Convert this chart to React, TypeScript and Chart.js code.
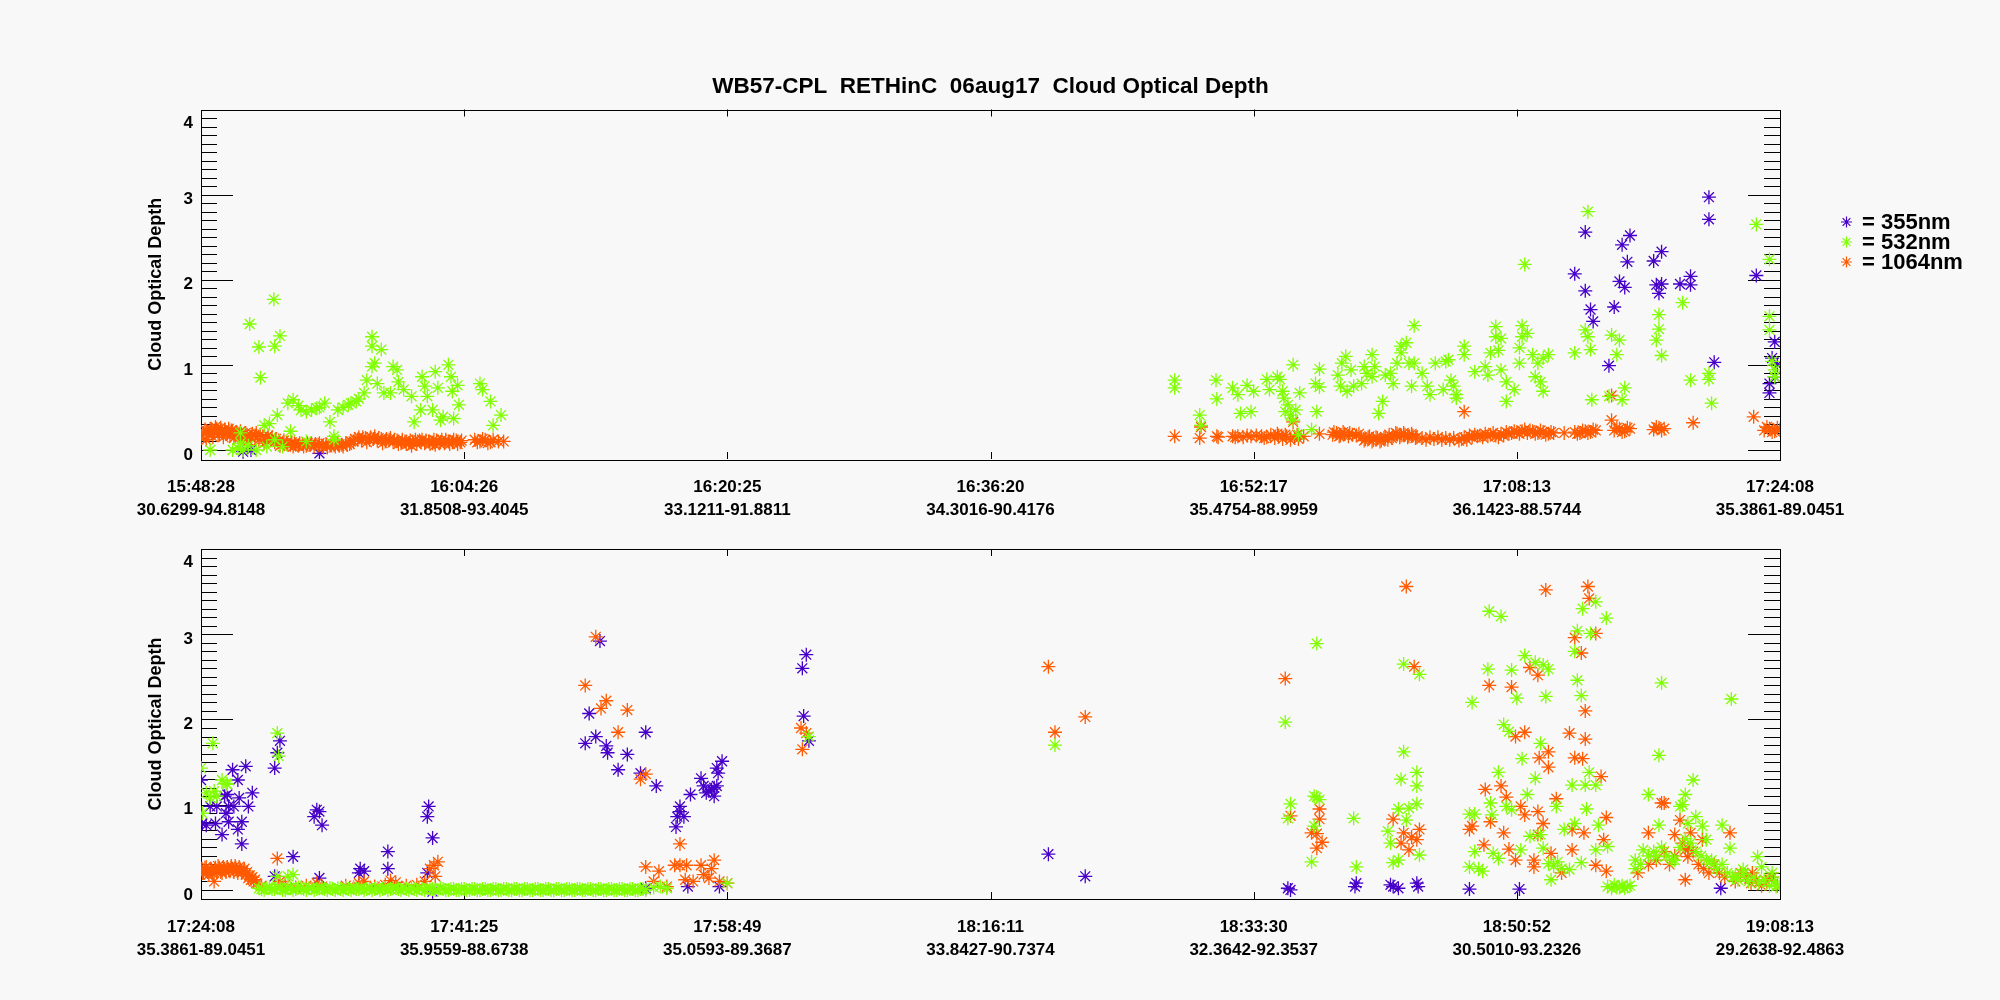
import React, { useEffect, useRef } from 'react';
import { Chart, registerables } from 'chart.js';
Chart.register(...registerables);

type P = [number, number];

// ---------- tick labels ----------
const topTimes = ['15:48:28', '16:04:26', '16:20:25', '16:36:20', '16:52:17', '17:08:13', '17:24:08'];
const topCoords = ['30.6299-94.8148', '31.8508-93.4045', '33.1211-91.8811', '34.3016-90.4176', '35.4754-88.9959', '36.1423-88.5744', '35.3861-89.0451'];
const bottomTimes = ['17:24:08', '17:41:25', '17:58:49', '18:16:11', '18:33:30', '18:50:52', '19:08:13'];
const bottomCoords = ['35.3861-89.0451', '35.9559-88.6738', '35.0593-89.3687', '33.8427-90.7374', '32.3642-92.3537', '30.5010-93.2326', '29.2638-92.4863'];

const seriesNames = ['= 355nm', '= 532nm', '= 1064nm'];
const titleText = 'WB57-CPL  RETHinC  06aug17  Cloud Optical Depth';
const yTitle = 'Cloud Optical Depth';

// ---------- top panel data (x = tick interval index, y = optical depth) ----------
const top355: P[] = [
  [0.16, -0.02], [0.45, -0.04], [0.19, 0.0],
  [5.22, 2.07], [5.26, 1.87], [5.26, 2.56], [5.28, 1.65], [5.29, 1.51], [5.35, 0.99], [5.37, 1.68],
  [5.39, 1.98], [5.41, 1.91], [5.40, 2.41], [5.43, 2.52], [5.42, 2.21], [5.52, 2.22], [5.55, 2.33],
  [5.53, 1.94], [5.55, 1.95], [5.54, 1.84], [5.62, 1.95], [5.66, 2.04], [5.66, 1.94], [5.73, 2.97],
  [5.73, 2.71], [5.75, 1.03], [5.91, 2.05], [5.98, 1.27], [5.97, 1.08], [5.96, 0.78], [5.96, 0.67],
  [5.98, 0.86], [5.99, 1.0],
];

const top532: P[] = [
  [0.035, 0.0], [0.12, 0.0], [0.14, 0.02], [0.16, 0.0], [0.18, 0.05], [0.21, 0.0], [0.15, 0.08], [0.15, 0.2],
  [0.24, 0.29], [0.26, 0.31], [0.25, 0.04], [0.28, 0.12], [0.31, 0.04], [0.34, 0.22], [0.40, 0.1], [0.505, 0.12],
  [0.185, 1.48], [0.22, 1.21], [0.226, 0.85], [0.277, 1.77], [0.28, 1.22], [0.30, 1.34],
  [0.29, 0.41], [0.33, 0.55], [0.35, 0.59], [0.37, 0.52], [0.38, 0.47], [0.40, 0.45], [0.42, 0.47], [0.44, 0.49],
  [0.45, 0.50], [0.47, 0.55], [0.49, 0.33], [0.505, 0.16], [0.52, 0.47], [0.54, 0.50], [0.56, 0.53], [0.57, 0.55],
  [0.59, 0.57], [0.60, 0.60], [0.62, 0.67], [0.63, 0.82], [0.65, 0.98], [0.65, 1.22], [0.65, 1.33], [0.685, 1.18],
  [0.66, 1.02], [0.67, 0.78], [0.695, 0.67], [0.72, 0.67], [0.73, 0.98], [0.745, 0.94], [0.75, 0.80], [0.77, 0.71],
  [0.80, 0.63], [0.81, 0.33], [0.835, 0.47], [0.84, 0.86], [0.85, 0.75], [0.86, 0.63], [0.89, 0.92], [0.90, 0.73],
  [0.88, 0.47], [0.91, 0.35], [0.92, 0.39], [0.94, 1.0], [0.95, 0.86], [0.955, 0.69], [0.975, 0.76], [0.98, 0.53],
  [0.96, 0.37], [1.06, 0.78], [1.07, 0.71], [1.10, 0.57], [1.11, 0.29], [1.14, 0.41],
  [3.70, 0.82], [3.70, 0.73], [3.795, 0.41], [3.80, 0.29], [3.857, 0.82], [3.86, 0.60], [3.92, 0.73], [3.94, 0.65],
  [3.975, 0.76], [3.95, 0.43], [3.99, 0.45], [4.0, 0.69], [4.05, 0.83], [4.06, 0.71], [4.09, 0.86], [4.10, 0.83],
  [4.11, 0.69], [4.115, 0.61], [4.12, 0.45], [4.13, 0.53], [4.14, 0.41], [4.16, 0.47], [4.15, 0.35], [4.15, 1.0],
  [4.175, 0.67], [4.17, 0.18], [4.22, 0.24], [4.235, 0.78], [4.25, 0.74], [4.25, 0.95], [4.24, 0.45], [4.32, 0.88],
  [4.33, 0.75], [4.335, 1.02], [4.35, 1.10], [4.355, 0.69], [4.37, 0.94], [4.38, 0.75], [4.41, 0.78], [4.42, 0.98],
  [4.43, 0.90], [4.45, 1.12], [4.45, 0.86], [4.46, 0.98], [4.49, 0.57], [4.475, 0.43], [4.50, 0.88], [4.52, 0.90],
  [4.53, 0.78], [4.545, 1.02], [4.56, 1.22], [4.56, 1.14], [4.58, 1.26], [4.59, 1.02], [4.60, 0.75], [4.61, 1.46],
  [4.61, 1.02], [4.64, 0.90], [4.66, 0.75], [4.67, 0.65], [4.69, 1.02], [4.72, 0.71], [4.73, 1.04], [4.75, 0.82],
  [4.76, 0.75], [4.77, 0.65], [4.74, 1.06], [4.77, 0.61], [4.80, 1.22], [4.80, 1.12], [4.84, 0.92], [4.88, 0.98],
  [4.89, 0.88], [4.90, 1.14], [4.92, 1.45], [4.92, 1.33], [4.93, 1.17], [4.94, 1.31], [4.94, 0.94], [4.96, 0.80],
  [4.96, 0.57], [4.99, 0.71], [5.01, 1.02], [5.01, 1.20], [5.02, 1.46], [5.02, 1.33], [5.04, 1.37], [5.06, 1.12],
  [5.07, 0.86], [5.08, 1.02], [5.09, 0.80], [5.10, 0.69], [5.10, 1.08], [5.12, 1.12], [5.03, 2.18], [5.27, 2.80],
  [5.22, 1.14], [5.26, 1.41], [5.27, 1.33], [5.28, 1.18], [5.285, 0.59], [5.36, 1.35], [5.39, 1.29], [5.38, 1.12],
  [5.41, 0.73], [5.40, 0.59], [5.35, 0.63], [5.54, 1.59], [5.54, 1.42], [5.53, 1.29], [5.55, 1.11], [5.63, 1.73],
  [5.66, 0.82], [5.73, 0.90], [5.73, 0.83], [5.74, 0.55], [5.91, 2.65], [5.96, 2.24], [5.96, 1.57], [5.96, 1.41],
  [5.97, 1.04], [5.98, 0.94], [5.98, 0.86],
];

const top1064: P[] = [
  [0.00, 0.14], [0.01, 0.20], [0.015, 0.24], [0.02, 0.12], [0.02, 0.22], [0.03, 0.18], [0.035, 0.25], [0.04, 0.24],
  [0.045, 0.15], [0.05, 0.21], [0.055, 0.27], [0.06, 0.25], [0.065, 0.18], [0.07, 0.19], [0.075, 0.26], [0.08, 0.23],
  [0.085, 0.15], [0.09, 0.24], [0.095, 0.19], [0.10, 0.20], [0.105, 0.25], [0.11, 0.17], [0.115, 0.23], [0.12, 0.22],
  [0.125, 0.14], [0.13, 0.16], [0.135, 0.21], [0.145, 0.19], [0.15, 0.22], [0.155, 0.16], [0.16, 0.15], [0.17, 0.20],
  [0.175, 0.18], [0.18, 0.11], [0.19, 0.14], [0.195, 0.19], [0.205, 0.17], [0.21, 0.20], [0.22, 0.12], [0.225, 0.18],
  [0.235, 0.16], [0.24, 0.08], [0.25, 0.10], [0.255, 0.17], [0.265, 0.13], [0.27, 0.15], [0.28, 0.09], [0.285, 0.13],
  [0.295, 0.11], [0.30, 0.05], [0.31, 0.07], [0.315, 0.11], [0.325, 0.09], [0.33, 0.06], [0.34, 0.06], [0.345, 0.09],
  [0.35, 0.04], [0.355, 0.08], [0.36, 0.06], [0.37, 0.05], [0.375, 0.08], [0.385, 0.07], [0.39, 0.04], [0.40, 0.05],
  [0.405, 0.08], [0.415, 0.06], [0.42, 0.08], [0.43, 0.04], [0.435, 0.07], [0.445, 0.06], [0.45, 0.08], [0.46, 0.05],
  [0.465, 0.03], [0.475, 0.07], [0.48, 0.03], [0.49, 0.05], [0.495, 0.08], [0.505, 0.06], [0.51, 0.04], [0.52, 0.07],
  [0.525, 0.05], [0.535, 0.06], [0.54, 0.04], [0.55, 0.08], [0.555, 0.06], [0.565, 0.07], [0.57, 0.10], [0.58, 0.10],
  [0.585, 0.13], [0.595, 0.12], [0.60, 0.15], [0.61, 0.11], [0.615, 0.15], [0.625, 0.14], [0.63, 0.09], [0.64, 0.12],
  [0.645, 0.15], [0.655, 0.13], [0.66, 0.16], [0.67, 0.11], [0.675, 0.14], [0.685, 0.13], [0.69, 0.08], [0.70, 0.10],
  [0.705, 0.13], [0.715, 0.12], [0.72, 0.14], [0.73, 0.09], [0.735, 0.12], [0.745, 0.11], [0.75, 0.07], [0.76, 0.08],
  [0.765, 0.12], [0.775, 0.10], [0.78, 0.07], [0.79, 0.08], [0.795, 0.11], [0.80, 0.05], [0.805, 0.10], [0.815, 0.12],
  [0.82, 0.07], [0.83, 0.11], [0.835, 0.09], [0.84, 0.12], [0.85, 0.08], [0.855, 0.11], [0.865, 0.10], [0.87, 0.07],
  [0.88, 0.08], [0.885, 0.12], [0.89, 0.06], [0.895, 0.11], [0.905, 0.08], [0.91, 0.09], [0.915, 0.12], [0.925, 0.08],
  [0.93, 0.12], [0.94, 0.10], [0.945, 0.07], [0.955, 0.09], [0.96, 0.12], [0.97, 0.11], [0.975, 0.07], [0.985, 0.09],
  [0.99, 0.11], [1.04, 0.12], [1.05, 0.09], [1.06, 0.10], [1.07, 0.13], [1.08, 0.12], [1.09, 0.08], [1.10, 0.09],
  [1.11, 0.12], [1.13, 0.10], [1.15, 0.10],
  [3.70, 0.16], [3.795, 0.14], [3.80, 0.27], [3.86, 0.16], [3.865, 0.15], [3.92, 0.16], [3.93, 0.15], [3.94, 0.16],
  [3.96, 0.15], [3.975, 0.17], [3.99, 0.16], [4.01, 0.17], [4.03, 0.16], [4.04, 0.14], [4.05, 0.15], [4.065, 0.18],
  [4.08, 0.14], [4.09, 0.19], [4.095, 0.17], [4.11, 0.13], [4.12, 0.18], [4.125, 0.16], [4.14, 0.12], [4.155, 0.15],
  [4.15, 0.33], [4.165, 0.18], [4.17, 0.13], [4.19, 0.16], [4.25, 0.19], [4.30, 0.18], [4.305, 0.21], [4.315, 0.20],
  [4.325, 0.16], [4.33, 0.17], [4.34, 0.21], [4.345, 0.19], [4.36, 0.16], [4.365, 0.20], [4.375, 0.18], [4.39, 0.17],
  [4.40, 0.19], [4.41, 0.15], [4.42, 0.11], [4.425, 0.13], [4.435, 0.15], [4.44, 0.16], [4.45, 0.10], [4.455, 0.12],
  [4.465, 0.15], [4.47, 0.14], [4.48, 0.10], [4.485, 0.11], [4.495, 0.14], [4.50, 0.15], [4.51, 0.12], [4.515, 0.18],
  [4.525, 0.14], [4.53, 0.16], [4.54, 0.20], [4.545, 0.19], [4.555, 0.15], [4.56, 0.17], [4.57, 0.20], [4.575, 0.18],
  [4.585, 0.15], [4.59, 0.16], [4.60, 0.19], [4.605, 0.17], [4.615, 0.14], [4.62, 0.15], [4.64, 0.14], [4.655, 0.12],
  [4.67, 0.15], [4.685, 0.13], [4.70, 0.15], [4.715, 0.12], [4.73, 0.14], [4.745, 0.12], [4.76, 0.14], [4.78, 0.11],
  [4.80, 0.45], [4.79, 0.13], [4.80, 0.15], [4.81, 0.12], [4.82, 0.17], [4.83, 0.15], [4.84, 0.18], [4.85, 0.16],
  [4.86, 0.17], [4.87, 0.15], [4.88, 0.19], [4.89, 0.16], [4.90, 0.18], [4.91, 0.20], [4.92, 0.17], [4.93, 0.15],
  [4.94, 0.19], [4.95, 0.17], [4.96, 0.21], [4.97, 0.19], [4.98, 0.20], [4.99, 0.22], [5.00, 0.21], [5.01, 0.19],
  [5.02, 0.22], [5.03, 0.24], [5.04, 0.20], [5.05, 0.23], [5.06, 0.22], [5.07, 0.19], [5.08, 0.20], [5.09, 0.23],
  [5.10, 0.21], [5.11, 0.18], [5.12, 0.19], [5.13, 0.21], [5.14, 0.20], [5.18, 0.20], [5.22, 0.21], [5.23, 0.19],
  [5.24, 0.20], [5.25, 0.23], [5.26, 0.22], [5.27, 0.20], [5.28, 0.21], [5.29, 0.24], [5.30, 0.23],
  [5.36, 0.64], [5.36, 0.35], [5.37, 0.23], [5.38, 0.26], [5.39, 0.25], [5.40, 0.21], [5.41, 0.22], [5.42, 0.26],
  [5.43, 0.25], [5.52, 0.24], [5.53, 0.27], [5.54, 0.26], [5.55, 0.23], [5.56, 0.25], [5.67, 0.32], [5.90, 0.39],
  [5.94, 0.23], [5.95, 0.27], [5.96, 0.25], [5.97, 0.21], [5.98, 0.22], [5.99, 0.26], [6.0, 0.24],
];

// ---------- bottom panel data ----------
const bottom355: P[] = [
  [0.0, 1.29], [0.005, 0.78], [0.02, 0.76], [0.035, 0.98], [0.055, 0.78], [0.06, 0.98], [0.08, 0.65], [0.09, 1.10],
  [0.10, 1.12], [0.095, 0.90], [0.105, 0.98], [0.105, 0.80], [0.12, 1.41], [0.125, 0.98], [0.14, 1.29], [0.145, 1.08],
  [0.14, 0.71], [0.155, 0.54], [0.155, 0.80], [0.17, 1.45], [0.18, 0.98], [0.195, 1.14],
  [0.28, 1.43], [0.29, 1.61], [0.30, 1.75], [0.35, 0.39], [0.28, 0.16],
  [0.43, 0.86], [0.44, 0.94], [0.45, 0.92], [0.46, 0.76], [0.45, 0.14],
  [0.60, 0.20], [0.605, 0.25], [0.62, 0.22], [0.71, 0.45], [0.71, 0.25],
  [0.86, 0.86], [0.865, 0.98], [0.88, 0.61], [0.86, 0.2], [0.88, -0.02],
  [1.516, 2.92], [1.475, 2.07], [1.50, 1.80], [1.46, 1.72], [1.54, 1.69], [1.545, 1.61], [1.62, 1.59], [1.69, 1.85],
  [1.585, 1.41], [1.67, 1.37], [1.73, 1.22], [1.805, 0.74], [1.81, 0.86], [1.82, 0.98], [1.835, 0.86], [1.82, 0.92],
  [1.86, 1.12], [1.90, 1.31], [1.91, 1.22], [1.92, 1.14], [1.94, 1.18], [1.95, 1.10], [1.96, 1.22], [1.965, 1.37],
  [1.96, 1.43], [1.98, 1.51], [1.93, 1.16], [1.95, 1.20], [1.69, 0.02], [1.85, 0.04], [1.97, 0.04],
  [2.30, 2.76], [2.285, 2.60], [2.29, 2.04], [2.31, 1.75],
  [3.22, 0.42], [3.36, 0.16],
  [4.13, 0.02], [4.14, 0.0], [4.39, 0.08], [4.385, 0.04],
  [4.52, 0.06], [4.53, 0.04], [4.55, 0.02], [4.62, 0.08], [4.625, 0.04], [4.82, 0.01], [5.01, 0.01], [5.775, 0.02],
];

const bottom532: P[] = [
  [0.0, 1.43], [0.045, 1.72], [0.02, 1.14], [0.035, 1.08], [0.05, 1.16], [0.06, 1.10], [0.005, 0.90], [0.08, 1.29],
  [0.095, 1.25], [0.10, 1.24], [0.29, 1.84], [0.295, 1.57], [0.29, 0.16], [0.33, 0.16], [0.35, 0.18],
  [0.22, 0.02], [0.23, 0.01], [0.24, 0.0], [0.25, 0.02], [0.26, 0.03], [0.27, 0.01], [0.28, 0.01], [0.29, 0.03],
  [0.30, 0.02], [0.31, 0.0], [0.32, 0.0], [0.33, 0.02], [0.34, 0.02], [0.35, 0.0], [0.36, 0.01], [0.37, 0.03],
  [0.38, 0.03], [0.39, 0.01], [0.40, 0.0], [0.41, 0.02], [0.42, 0.02], [0.43, 0.0], [0.44, 0.01], [0.45, 0.02],
  [0.46, 0.02], [0.47, 0.01], [0.48, 0.0], [0.49, 0.02], [0.50, 0.01], [0.51, 0.0], [0.52, 0.02], [0.53, 0.01],
  [0.54, 0.0], [0.55, 0.02], [0.56, 0.01], [0.57, 0.0], [0.58, 0.02], [0.59, 0.01], [0.60, 0.01], [0.61, 0.02],
  [0.62, 0.0], [0.63, 0.01], [0.64, 0.02], [0.65, 0.0], [0.66, 0.01], [0.67, 0.02], [0.68, 0.0], [0.69, 0.01],
  [0.70, 0.02], [0.71, 0.0], [0.72, 0.01], [0.73, 0.02], [0.74, 0.02], [0.75, 0.01], [0.76, 0.0], [0.77, 0.02],
  [0.78, 0.01], [0.79, 0.0], [0.80, 0.02], [0.81, 0.01], [0.82, 0.0], [0.83, 0.02], [0.84, 0.01], [0.85, 0.0],
  [0.86, 0.02], [0.87, 0.01], [0.88, 0.01], [0.89, 0.0], [0.90, 0.0], [0.91, 0.02], [0.92, 0.01], [0.93, 0.0],
  [0.94, 0.0], [0.95, 0.01], [0.96, 0.01], [0.97, 0.0], [0.98, 0.0], [0.99, 0.01], [1.00, 0.01], [1.01, 0.0],
  [1.02, 0.0], [1.03, 0.01], [1.04, 0.01], [1.05, 0.0], [1.06, 0.0], [1.07, 0.01], [1.08, 0.01], [1.09, 0.0],
  [1.10, 0.0], [1.11, 0.01], [1.12, 0.01], [1.13, 0.0], [1.14, 0.0], [1.15, 0.01], [1.16, 0.01], [1.17, 0.0],
  [1.18, 0.0], [1.19, 0.01], [1.20, 0.01], [1.21, 0.0], [1.22, 0.0], [1.23, 0.01], [1.24, 0.01], [1.25, 0.0],
  [1.26, 0.0], [1.27, 0.01], [1.28, 0.01], [1.29, 0.0], [1.30, 0.0], [1.31, 0.01], [1.32, 0.01], [1.33, 0.0],
  [1.34, 0.0], [1.35, 0.01], [1.36, 0.01], [1.37, 0.0], [1.38, 0.0], [1.39, 0.01], [1.40, 0.01], [1.41, 0.0],
  [1.42, 0.0], [1.43, 0.01], [1.44, 0.01], [1.45, 0.0], [1.46, 0.0], [1.47, 0.01], [1.48, 0.01], [1.49, 0.0],
  [1.50, 0.0], [1.51, 0.01], [1.52, 0.01], [1.53, 0.0], [1.54, 0.0], [1.55, 0.01], [1.56, 0.01], [1.57, 0.0],
  [1.58, 0.0], [1.59, 0.01], [1.60, 0.01], [1.61, 0.0], [1.62, 0.0], [1.63, 0.01], [1.64, 0.01], [1.65, 0.0],
  [1.66, 0.0], [1.67, 0.01], [1.68, 0.01], [1.69, 0.0], [1.72, 0.03], [1.745, 0.04], [1.77, 0.02], [2.0, 0.08],
  [2.31, 1.80], [3.245, 1.70],
  [4.24, 2.89], [4.12, 1.97], [4.14, 1.01], [4.13, 0.84], [4.23, 1.10], [4.25, 1.06], [4.24, 1.09], [4.23, 0.75],
  [4.22, 0.33], [4.38, 0.84], [4.39, 0.27],
  [4.57, 1.62], [4.56, 1.30], [4.62, 1.38], [4.62, 1.22], [4.62, 1.01], [4.59, 0.96], [4.55, 0.95], [4.58, 0.82],
  [4.51, 0.69], [4.52, 0.55], [4.63, 0.41], [4.53, 0.32], [4.55, 0.35], [4.57, 2.65], [4.63, 2.53], [4.895, 3.27],
  [4.94, 3.21], [4.83, 2.20], [4.89, 2.59], [4.98, 2.58], [5.0, 2.25], [5.03, 2.75], [5.07, 2.67], [5.10, 2.64],
  [5.12, 2.59], [5.11, 2.27], [5.25, 3.30], [5.30, 3.38], [5.34, 3.19], [5.23, 3.04], [5.28, 3.01], [5.22, 2.80],
  [5.23, 2.46], [5.245, 2.28], [4.95, 1.94], [4.97, 1.86], [5.02, 1.54], [5.09, 1.72], [5.07, 1.31], [4.93, 1.38],
  [5.04, 1.12], [5.275, 1.38], [5.21, 1.23], [5.26, 1.23], [5.30, 1.23], [5.15, 0.98], [5.265, 0.95], [4.82, 0.89],
  [4.84, 0.89], [4.90, 1.02], [4.905, 0.88], [4.96, 0.98], [4.98, 0.94], [4.84, 0.45], [4.82, 0.27], [4.855, 0.25],
  [4.87, 0.22], [4.91, 0.43], [4.93, 0.37], [5.015, 0.47], [5.05, 0.63], [5.09, 0.65], [5.10, 0.49], [5.13, 0.12],
  [5.12, 0.31], [5.14, 0.28], [5.155, 0.33], [5.17, 0.25], [5.18, 0.71], [5.22, 0.78], [5.20, 0.24], [5.245, 0.32],
  [5.30, 0.47], [5.31, 0.76], [5.345, 0.51], [5.345, 0.04], [5.36, 0.02], [5.37, 0.06], [5.38, 0.03], [5.39, 0.03],
  [5.40, 0.05], [5.41, 0.02], [5.42, 0.04], [5.43, 0.05],
  [5.45, 0.35], [5.45, 0.25], [5.47, 0.30], [5.48, 0.47], [5.50, 1.12], [5.50, 0.40], [5.52, 0.45], [5.54, 1.58],
  [5.55, 2.43], [5.54, 0.76], [5.53, 0.39], [5.55, 0.50], [5.57, 0.40], [5.59, 0.35], [5.60, 0.35], [5.62, 0.98],
  [5.62, 0.50], [5.64, 1.12], [5.64, 0.60], [5.67, 1.29], [5.63, 1.0], [5.65, 0.78], [5.66, 0.55], [5.68, 0.86],
  [5.68, 0.45], [5.70, 0.40], [5.705, 0.75], [5.72, 0.59], [5.72, 0.35], [5.74, 0.35], [5.74, 0.30], [5.76, 0.25],
  [5.78, 0.76], [5.78, 0.30], [5.80, 0.20], [5.81, 0.49], [5.815, 2.24], [5.82, 0.15], [5.83, 0.16], [5.84, 0.12],
  [5.86, 0.24], [5.86, 0.18], [5.88, 0.10], [5.90, 0.15], [5.915, 0.39], [5.92, 0.08], [5.93, 0.27], [5.94, 0.12],
  [5.96, 0.05], [5.97, 0.20], [5.98, 0.10], [5.985, 0.04], [6.0, 0.06],
];

const bottom1064: P[] = [
  [0.0, 0.24], [0.005, 0.20], [0.01, 0.20], [0.015, 0.26], [0.02, 0.27], [0.025, 0.21], [0.03, 0.18], [0.035, 0.25],
  [0.04, 0.24], [0.045, 0.19], [0.05, 0.10], [0.055, 0.26], [0.06, 0.22], [0.065, 0.28], [0.07, 0.26], [0.075, 0.21],
  [0.08, 0.20], [0.085, 0.27], [0.09, 0.25], [0.095, 0.21], [0.10, 0.27], [0.105, 0.23], [0.11, 0.22], [0.115, 0.28],
  [0.12, 0.25], [0.125, 0.21], [0.13, 0.28], [0.135, 0.24], [0.14, 0.20], [0.145, 0.27], [0.15, 0.24], [0.155, 0.20],
  [0.16, 0.22], [0.165, 0.25], [0.17, 0.18], [0.175, 0.21], [0.18, 0.14], [0.185, 0.17], [0.19, 0.12], [0.195, 0.15],
  [0.20, 0.10], [0.205, 0.12], [0.21, 0.08], [0.23, 0.05],
  [0.29, 0.37], [0.30, 0.10], [0.32, 0.06], [0.36, 0.03], [0.40, 0.05], [0.44, 0.08], [0.46, 0.04], [0.55, 0.05],
  [0.58, 0.03], [0.60, 0.08], [0.62, 0.10], [0.66, 0.04], [0.70, 0.06], [0.72, 0.11], [0.74, 0.09], [0.78, 0.05],
  [0.82, 0.06], [0.85, 0.10], [0.87, 0.25], [0.885, 0.29], [0.90, 0.33], [0.89, 0.16],
  [1.50, 2.97], [1.46, 2.40], [1.54, 2.22], [1.52, 2.13], [1.62, 2.11], [1.585, 1.85], [1.67, 1.30], [1.69, 1.36],
  [1.82, 0.54], [1.69, 0.27], [1.74, 0.22], [1.80, 0.29], [1.82, 0.29], [1.845, 0.29], [1.90, 0.29], [1.95, 0.35],
  [1.94, 0.25], [1.87, 0.10], [1.91, 0.18], [1.97, 0.10], [2.0, 0.08], [1.72, 0.10], [1.77, 0.04], [1.84, 0.12],
  [1.93, 0.14], [2.28, 1.90], [2.285, 1.65], [2.30, 1.84],
  [3.22, 2.62], [3.36, 2.03], [3.245, 1.85], [4.12, 2.48], [4.14, 0.87], [4.25, 0.95], [4.25, 0.83], [4.22, 0.67],
  [4.24, 0.66], [4.26, 0.56], [4.24, 0.49],
  [4.58, 3.56], [5.11, 3.52], [5.27, 3.56], [5.275, 3.42], [4.61, 2.62], [5.22, 2.96], [5.30, 3.01], [5.245, 2.78],
  [4.895, 2.40], [4.98, 2.38], [5.05, 2.61], [5.08, 2.52], [5.26, 2.10], [5.20, 1.84], [5.26, 1.77], [5.03, 1.85],
  [4.995, 1.80], [5.12, 1.62], [5.085, 1.55], [5.12, 1.44], [5.22, 1.55], [5.25, 1.54], [5.32, 1.33], [4.88, 1.18],
  [4.94, 1.22], [4.96, 1.09], [5.15, 1.07], [5.015, 0.98], [5.08, 0.92], [5.03, 0.88], [5.10, 0.78], [5.34, 0.85],
  [5.55, 1.02], [5.56, 1.02], [4.53, 0.83], [4.57, 0.67], [4.63, 0.71], [4.62, 0.59], [4.59, 0.47], [4.56, 0.55],
  [4.60, 0.62], [4.82, 0.71], [4.83, 0.75], [4.875, 0.53], [4.90, 0.80], [4.95, 0.67], [4.97, 0.48], [4.995, 0.35],
  [5.065, 0.35], [5.08, 0.65], [5.13, 0.43], [5.065, 0.27], [5.17, 0.20], [5.21, 0.47], [5.21, 0.71], [5.255, 0.67],
  [5.30, 0.29], [5.33, 0.59], [5.34, 0.22], [5.46, 0.20], [5.50, 0.67], [5.50, 0.30], [5.53, 0.35], [5.56, 0.45],
  [5.58, 0.30], [5.60, 0.65], [5.60, 0.40], [5.62, 0.82], [5.63, 0.55], [5.64, 0.47], [5.65, 0.39], [5.64, 0.12],
  [5.65, 0.50], [5.66, 0.67], [5.67, 0.45], [5.69, 0.30], [5.705, 0.59], [5.71, 0.25], [5.73, 0.20], [5.75, 0.30],
  [5.77, 0.20], [5.79, 0.15], [5.81, 0.67], [5.83, 0.10], [5.85, 0.20], [5.87, 0.15], [5.89, 0.08], [5.895, 0.20],
  [5.91, 0.12], [5.93, 0.05], [5.95, 0.10], [5.96, 0.12], [5.97, 0.15], [5.99, 0.05],
];

// ---------- styles ----------
const C355 = '#4600c8';
const C532 = '#80ff00';
const C1064 = '#ff5a00';
const seriesColors = [C355, C532, C1064];
const FONT = '"Liberation Sans", Arial, Helvetica, sans-serif';
const BG = '#f8f8f8';

const framePlugin = {
  id: 'idlFrame',
  beforeDatasetsDraw(chart: any) {
    const { ctx, chartArea: a, scales } = chart;
    const xs = scales.x;
    const ys = scales.y;
    ctx.save();
    ctx.strokeStyle = '#000';
    ctx.lineWidth = 1;
    ctx.beginPath();
    for (const t of xs.ticks) {
      const px = Math.round(xs.getPixelForValue(t.value)) + 0.5;
      if (px <= a.left + 2 || px >= a.right - 2) continue;
      ctx.moveTo(px, a.bottom);
      ctx.lineTo(px, a.bottom - 7);
      ctx.moveTo(px, a.top);
      ctx.lineTo(px, a.top + 7);
    }
    for (const t of ys.ticks) {
      const v = t.value;
      const py = Math.round(ys.getPixelForValue(v)) + 0.5;
      if (py <= a.top + 2 || py >= a.bottom - 2) continue;
      const major = Math.abs(v - Math.round(v)) < 1e-6;
      const len = major ? 32 : 16;
      ctx.moveTo(a.left, py);
      ctx.lineTo(a.left + len, py);
      ctx.moveTo(a.right, py);
      ctx.lineTo(a.right - len, py);
    }
    ctx.stroke();
    ctx.strokeRect(Math.round(a.left) + 0.5, Math.round(a.top) + 0.5, Math.round(a.right - a.left), Math.round(a.bottom - a.top));
    ctx.restore();
  },
};

function drawAsterisk(ctx: CanvasRenderingContext2D, x: number, y: number, r: number, color: string) {
  const d = r * Math.SQRT1_2;
  ctx.strokeStyle = color;
  ctx.lineWidth = 1.2;
  ctx.beginPath();
  ctx.moveTo(x - r, y); ctx.lineTo(x + r, y);
  ctx.moveTo(x, y - r); ctx.lineTo(x, y + r);
  ctx.moveTo(x - d, y - d); ctx.lineTo(x + d, y + d);
  ctx.moveTo(x - d, y + d); ctx.lineTo(x + d, y - d);
  ctx.stroke();
}

const legendPlugin = {
  id: 'idlLegend',
  afterDraw(chart: any) {
    const ctx: CanvasRenderingContext2D = chart.ctx;
    ctx.save();
    seriesNames.forEach((name, i) => {
      const y = 222 + i * 20;
      drawAsterisk(ctx, 1846.5, y, 5.5, seriesColors[i]);
      ctx.fillStyle = '#000';
      ctx.font = `bold 22px ${FONT}`;
      ctx.textAlign = 'left';
      ctx.textBaseline = 'middle';
      ctx.fillText(name, 1862, y + 1);
    });
    ctx.restore();
  },
};

function toXY(arr: P[]) {
  return arr.map(([x, y]) => ({ x, y }));
}

function makeConfig(opts: {
  s355: P[]; s532: P[]; s1064: P[];
  times: string[]; coords: string[];
  withTitle: boolean; padTop: number; xHeight: number;
}) {
  const ds = (label: string, data: P[], color: string, order: number) => ({
    label,
    data: toXY(data),
    borderColor: color,
    backgroundColor: color,
    pointStyle: 'star',
    pointRadius: 7,
    pointHoverRadius: 7,
    pointBorderWidth: 1.3,
    showLine: false,
    clip: 0,
    order,
  });
  return {
    type: 'scatter',
    data: {
      datasets: [
        ds(seriesNames[0], opts.s355, C355, 2),
        ds(seriesNames[1], opts.s532, C532, 0),
        ds(seriesNames[2], opts.s1064, C1064, 1),
      ],
    },
    options: {
      animation: false,
      responsive: false,
      devicePixelRatio: 1,
      events: [],
      layout: { padding: { left: 0, right: 220, top: opts.padTop, bottom: 0 } },
      plugins: {
        legend: { display: false },
        tooltip: { enabled: false },
        title: {
          display: opts.withTitle,
          text: titleText,
          color: '#000',
          fullSize: false,
          font: { family: FONT, size: 22.5, weight: 'bold', lineHeight: 1 },
          padding: { top: 0, bottom: 11 },
        },
      },
      scales: {
        x: {
          type: 'linear',
          min: 0,
          max: 6,
          afterFit: (s: any) => { s.height = opts.xHeight; },
          grid: { display: false, drawTicks: false },
          border: { display: false },
          ticks: {
            stepSize: 1,
            autoSkip: false,
            maxRotation: 0,
            minRotation: 0,
            padding: 17,
            color: '#000',
            font: { family: FONT, size: 17, weight: 'bold', lineHeight: 1.353 },
            callback: (v: number) => {
              const i = Math.round(v);
              if (Math.abs(v - i) > 1e-6 || i < 0 || i >= opts.times.length) return '';
              return [opts.times[i], opts.coords[i]];
            },
          },
        },
        y: {
          type: 'linear',
          min: -0.106,
          max: 4.0,
          afterFit: (s: any) => { s.width = 201; },
          grid: { display: false, drawTicks: false },
          border: { display: false },
          title: {
            display: true,
            text: yTitle,
            color: '#000',
            font: { family: FONT, size: 18, weight: 'bold', lineHeight: 1.2 },
            padding: { top: 145, bottom: 0 },
          },
          ticks: {
            stepSize: 0.1,
            autoSkip: false,
            includeBounds: false,
            padding: 8,
            labelOffset: 5,
            color: '#000',
            font: { family: FONT, size: 17, weight: 'bold' },
            callback: (v: number) => {
              if (Math.abs(v - 3.9) < 1e-6) return '4';
              const i = Math.round(v);
              if (Math.abs(v - i) < 1e-6 && i >= 0 && i <= 3) return String(i);
              return '';
            },
          },
        },
      },
    },
    plugins: opts.withTitle ? [framePlugin, legendPlugin] : [framePlugin],
  };
}

export default function App() {
  const topRef = useRef<HTMLCanvasElement>(null);
  const botRef = useRef<HTMLCanvasElement>(null);

  useEffect(() => {
    const c1 = new Chart(topRef.current as HTMLCanvasElement, makeConfig({
      s355: top355, s532: top532, s1064: top1064,
      times: topTimes, coords: topCoords,
      withTitle: true, padTop: 76, xHeight: 71,
    }) as any);
    const c2 = new Chart(botRef.current as HTMLCanvasElement, makeConfig({
      s355: bottom355, s532: bottom532, s1064: bottom1064,
      times: bottomTimes, coords: bottomCoords,
      withTitle: false, padTop: 19, xHeight: 101,
    }) as any);
    return () => {
      c1.destroy();
      c2.destroy();
    };
  }, []);

  return (
    <div style={{ position: 'fixed', left: 0, top: 0, width: 2000, height: 1000, background: BG, overflow: 'hidden' }}>
      <canvas ref={topRef} width={2000} height={530} style={{ position: 'absolute', left: 0, top: 0, width: 2000, height: 530 }} />
      <canvas ref={botRef} width={2000} height={470} style={{ position: 'absolute', left: 0, top: 530, width: 2000, height: 470 }} />
    </div>
  );
}
